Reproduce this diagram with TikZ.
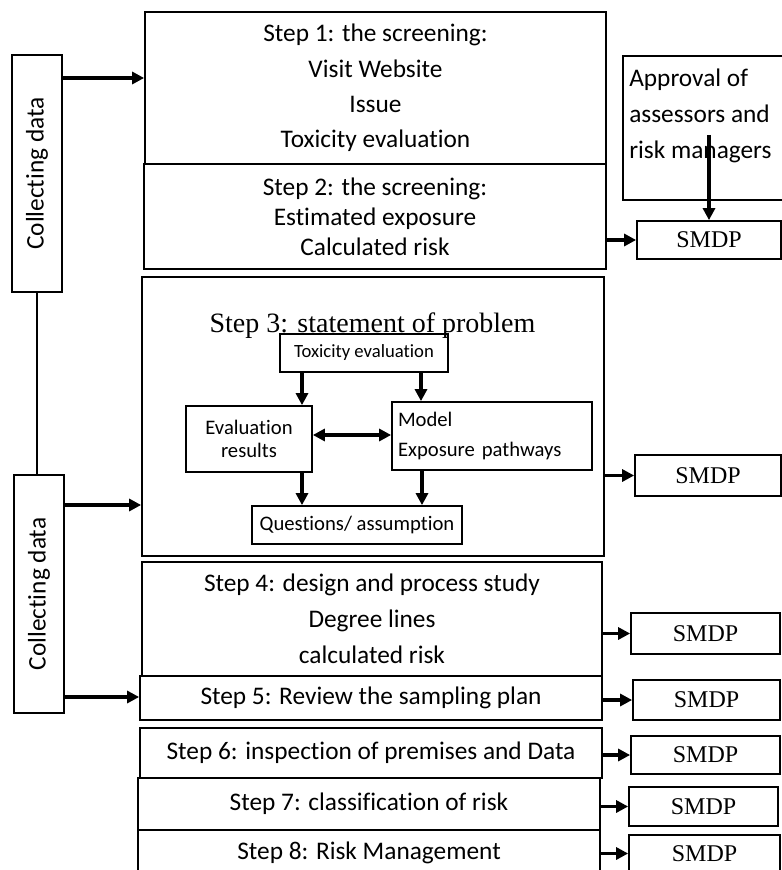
\documentclass[tikz,border=0pt]{standalone}
\usepackage{fontspec}
\setmainfont{Carlito}[Ligatures=CommonOff]
\newfontfamily\timesfont{Liberation Serif}
\usetikzlibrary{arrows.meta}

\tikzset{
  box/.style 2 args={draw, line width=1.3pt, inner sep=0pt, align=center,
    minimum width=#1*0.75pt, minimum height=#2*0.75pt},
  mainfont/.style={font=\fontsize{19}{26.5}\selectfont},
  smdp/.style={font=\timesfont\fontsize{18}{20}\selectfont},
  arr/.style={line width=2.4pt, -{Triangle[length=9pt,width=9pt]}},
  dblarr/.style={line width=2.4pt, {Triangle[length=9pt,width=9pt]}-{Triangle[length=9pt,width=9pt]}},
}

\begin{document}
\begin{tikzpicture}[x=0.75pt, y=-0.75pt]
	\useasboundingbox (0,0) rectangle (781,870);

	% collecting data
	\node[box={50}{237}, label={[rotate=90, mainfont]center:Collecting data}] (cd1) at (37,173.5) {};
	\node[box={50}{238}, label={[rotate=90, mainfont]center:Collecting data}] (cd2) at (39,594) {};
	\draw[line width=0.8pt] (cd1.south) -- (cd1.south |- cd2.north);

	% steps
	\node[box={461}{152}, font=\fontsize{19}{26.6}\selectfont] (st1) at (375.5,88)
		{Step 1: the screening:\\Visit Website\\Issue\\Toxicity evaluation};
	\node[box={462}{105}, font=\fontsize{19}{22.5}\selectfont] (st2) at (375,216.5)
		{Step 2: the screening:\\Estimated exposure\\Calculated risk};
	\node[box={462}{279}] (st3) at (373,416.5) {};
	\node[box={460}{114}, font=\fontsize{19}{27}\selectfont] (st4) at (372,619)
		{Step 4: design and process study\\Degree lines\\calculated risk};
	\node[box={462}{44}, mainfont] (st5) at (371,698) {Step 5: Review the sampling plan};
	\node[box={462}{50}, mainfont] (st6) at (371,753) {Step 6: inspection of premises and Data};
	\node[box={462}{52}, mainfont] (st7) at (369,804) {Step 7: classification of risk};
	\node[box={462}{46}, mainfont] (st8) at (369,853) {Step 8: Risk Management};

	% inside step 3
	\node[font=\timesfont\fontsize{21}{24}\selectfont, anchor=base] (ttl) at (372.5,332)
		{Step 3: statement of problem};
	\node[box={168}{38}, font=\fontsize{14}{16}\selectfont] (tox) at (364,353) {Toxicity evaluation};
	\node[box={126}{66}, font=\fontsize{15.5}{17.25}\selectfont] (eval) at (249,439) {Evaluation\\results};
	\node[box={200}{68}, align=left, text width=188*0.75pt, font=\fontsize{15.5}{23}\selectfont] (model) at (492,436)
		{Model\\Exposure pathways};
	\node[box={210}{38}, font=\fontsize{15.5}{17}\selectfont] (ques) at (357,525) {Questions/ assumption};

	\draw[arr] (302,0 |- tox.south) -- (302,0 |- eval.north);
	\draw[arr] (421,0 |- tox.south) -- (421,0 |- model.north);
	\draw[dblarr] (eval.east |- 0,435) -- (model.west |- 0,435);
	\draw[arr] (302,0 |- eval.south) -- (302,0 |- ques.north);
	\draw[arr] (422,0 |- model.south) -- (422,0 |- ques.north);

	% approval and SMDP
	\node[box={161}{144}] (appr) at (703.5,128) {};
	\node[anchor=north west, align=left, inner sep=0pt, font=\fontsize{19}{27}\selectfont] (apprtxt) at (629,69)
		{Approval of\\assessors and\\risk managers};
	\node[box={144}{38}, smdp] (s1) at (709,240) {SMDP};
	\node[box={146}{41}, smdp] (s2) at (708,475.5) {SMDP};
	\node[box={149}{41}, smdp] (s3) at (705.5,633.5) {SMDP};
	\node[box={147}{40}, smdp] (s4) at (706.5,700) {SMDP};
	\node[box={149}{38}, smdp] (s5) at (705.5,755) {SMDP};
	\node[box={149}{39}, smdp] (s6) at (703.5,806.5) {SMDP};
	\node[box={151}{37}, smdp] (s7) at (704.5,853.5) {SMDP};

	\coordinate (apprpt) at (709,135);
	\draw[arr] (apprpt) -- (s1.north);

	% arrows
	\draw[arr] (cd1.east |- 0,78) -- (st1.west |- 0,78);
	\draw[arr] (cd2.east |- 0,505) -- (st3.west |- 0,505);
	\draw[arr] (cd2.east |- 0,697) -- (st5.west |- 0,697);

	\draw[arr] (st2.east |- s1.west) -- (s1.west);
	\draw[arr] (st3.east |- s2.west) -- (s2.west);
	\draw[arr] (st4.east |- s3.west) -- (s3.west);
	\draw[arr] (st5.east |- s4.west) -- (s4.west);
	\draw[arr] (st6.east |- s5.west) -- (s5.west);
	\draw[arr] (st7.east |- s6.west) -- (s6.west);
	\draw[arr] (st8.east |- s7.west) -- (s7.west);
\end{tikzpicture}
\end{document}
